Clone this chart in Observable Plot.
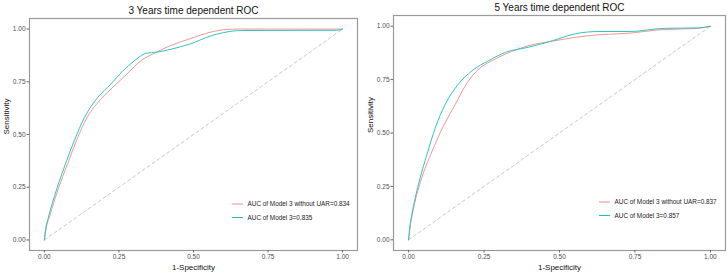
<!DOCTYPE html>
<html><head><meta charset="utf-8">
<script src="https://cdn.jsdelivr.net/npm/d3@7"></script>
<script src="https://cdn.jsdelivr.net/npm/@observablehq/plot@0.6"></script>
<style>
body{margin:0;background:#fff;}
#wrap{position:relative;width:728px;height:273px;overflow:hidden;background:#fff;}
.panel{position:absolute;top:0;}
</style></head><body><div id="wrap"></div>
<script>
const FONT = '"Liberation Sans", Arial, sans-serif';
const ticks = [0, 0.25, 0.5, 0.75, 1];
const tickLabels = ["0.00", "0.25", "0.50", "0.75", "1.00"];
const seriesNames = ["AUC of Model 3 without UAR", "AUC of Model 3"];
const colors = ["#F28A84", "#19BDBE"];
const diagonal = [0, 1];
const titles = ["3 Years time dependent ROC", "5 Years time dependent ROC"];
const xTitle = "1-Specificity";
const yTitle = "Sensitivity";

// 3-year ROC
const y3_noUAR_fpr = [0, 0.005, 0.017, 0.045, 0.078, 0.112, 0.145, 0.19, 0.234, 0.279, 0.323, 0.368, 0.424, 0.49, 0.557, 0.61, 0.65, 1.0];
const y3_noUAR_tpr = [0, 0.05, 0.11, 0.236, 0.362, 0.487, 0.585, 0.668, 0.73, 0.79, 0.849, 0.885, 0.922, 0.955, 0.985, 0.998, 1.0, 1.0];
const y3_model_fpr = [0, 0.004, 0.011, 0.033, 0.067, 0.1, 0.134, 0.179, 0.223, 0.262, 0.301, 0.34, 0.379, 0.424, 0.49, 0.557, 0.6, 0.66, 0.98, 1.0];
const y3_model_tpr = [0, 0.05, 0.094, 0.204, 0.346, 0.47, 0.58, 0.676, 0.739, 0.80, 0.849, 0.885, 0.891, 0.904, 0.93, 0.967, 0.983, 0.993, 0.994, 1.0];
const y3_auc = ["0.834", "0.835"];

// 5-year ROC
const y5_noUAR_fpr = [0, 0.005, 0.017, 0.044, 0.078, 0.111, 0.155, 0.194, 0.233, 0.277, 0.322, 0.399, 0.477, 0.554, 0.63, 0.73, 0.83, 0.96, 1.0];
const y5_noUAR_tpr = [0, 0.06, 0.151, 0.292, 0.415, 0.52, 0.635, 0.735, 0.80, 0.839, 0.87, 0.909, 0.93, 0.948, 0.96, 0.967, 0.983, 0.99, 1.0];
const y5_model_fpr = [0, 0.004, 0.011, 0.033, 0.061, 0.089, 0.122, 0.161, 0.211, 0.266, 0.322, 0.399, 0.477, 0.554, 0.63, 0.73, 0.85, 0.96, 1.0];
const y5_model_tpr = [0, 0.06, 0.12, 0.261, 0.40, 0.526, 0.636, 0.722, 0.792, 0.839, 0.878, 0.902, 0.932, 0.965, 0.975, 0.975, 0.99, 0.992, 1.0];
const y5_auc = ["0.837", "0.857"];

function toRows(fpr, tpr, name) {
  return fpr.map((f, i) => ({fpr: f, tpr: tpr[i], series: name}));
}

function makePanel(cfg) {
  const rows = [
    ...toRows(cfg.noFpr, cfg.noTpr, seriesNames[0]),
    ...toRows(cfg.mFpr, cfg.mTpr, seriesNames[1])
  ];
  const diagRows = diagonal.map(d => ({fpr: d, tpr: d}));
  const fmt = d => tickLabels[ticks.indexOf(d)];
  const plot = Plot.plot({
    width: 364,
    height: 273,
    marginLeft: cfg.ml,
    marginRight: cfg.mr,
    marginTop: cfg.mt,
    marginBottom: cfg.mb,
    style: {fontFamily: FONT, background: "white", overflow: "visible"},
    x: {domain: [-0.05, 1.05], ticks, label: null},
    y: {domain: [-0.05, 1.05], ticks, label: null},
    color: {domain: seriesNames, range: colors},
    marks: [
      Plot.line(diagRows, {x: "fpr", y: "tpr", stroke: "#c8c8c8", strokeWidth: 1, strokeDasharray: "3,3"}),
      Plot.line(rows, {x: "fpr", y: "tpr", z: "series", stroke: "series", strokeWidth: 0.9, curve: "monotone-x"}),
      Plot.frame({stroke: "#9a9a9a", strokeWidth: 1.2}),
      Plot.axisX({ticks, tickFormat: fmt, tickSize: 2.5, tickPadding: 1.5, fontSize: 6.5, fill: "#4d4d4d", stroke: "#666", label: null}),
      Plot.axisY({ticks, tickFormat: fmt, tickSize: 2.5, tickPadding: 1.5, fontSize: 6.5, fill: "#4d4d4d", stroke: "#666", label: null}),
      Plot.text([cfg.title], {frameAnchor: "top", lineAnchor: "bottom", dy: -4.5, fontSize: 10, fill: "#111"}),
      Plot.text([xTitle], {frameAnchor: "bottom", lineAnchor: "middle", dy: 17, fontSize: 8, fill: "#111"}),
      Plot.text([yTitle], {frameAnchor: "left", rotate: -90, dx: -23, fontSize: 8, fill: "#111"})
    ]
  });
  // legend
  const svg = d3.select(plot);
  const g = svg.append("g").attr("font-family", FONT).attr("font-size", 6.4).attr("fill", "#222")
    .attr("text-anchor", "start");
  seriesNames.forEach((name, i) => {
    const y = cfg.legY + i * 13.5;
    g.append("line").attr("x1", cfg.legX).attr("x2", cfg.legX + 11).attr("y1", y).attr("y2", y)
      .attr("stroke", colors[i]).attr("stroke-width", 1);
    g.append("text").attr("x", cfg.legX + 15.5).attr("y", y).attr("dy", "0.35em")
      .attr("text-anchor", "start")
      .text(`${name}=${cfg.auc[i]}`);
  });
  const div = document.createElement("div");
  div.className = "panel";
  div.style.left = cfg.left + "px";
  div.appendChild(plot);
  document.getElementById("wrap").appendChild(div);
}

makePanel({
  title: titles[0], left: 0, ml: 29, mr: 7, mt: 18, mb: 23,
  noFpr: y3_noUAR_fpr, noTpr: y3_noUAR_tpr, mFpr: y3_model_fpr, mTpr: y3_model_tpr,
  auc: y3_auc, legX: 232, legY: 204
});
makePanel({
  title: titles[1], left: 364, ml: 29, mr: 3, mt: 15, mb: 23,
  noFpr: y5_noUAR_fpr, noTpr: y5_noUAR_tpr, mFpr: y5_model_fpr, mTpr: y5_model_tpr,
  auc: y5_auc, legX: 235, legY: 202
});
</script>
</body></html>
